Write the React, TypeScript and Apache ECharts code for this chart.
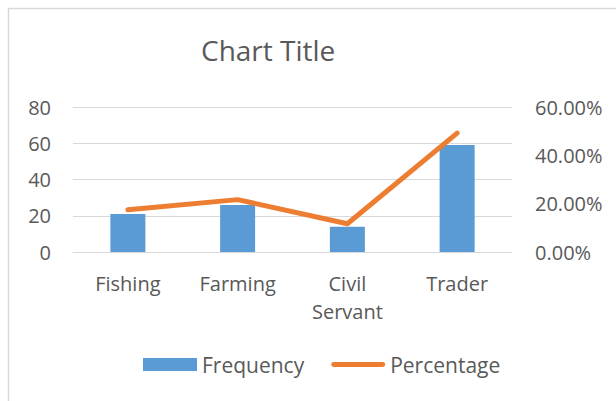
import React, { useEffect, useRef } from "react";
import * as echarts from "echarts";

const categories = ["Fishing", "Farming", "Civil\nServant", "Trader"];
const frequency = [21, 26, 14, 59];
const percentage = [0.175, 0.2167, 0.1167, 0.4917];
const leftTicks = { min: 0, max: 80, interval: 20 };
const rightTicks = { min: 0, max: 0.6, interval: 0.2 };

const FONT = "'Open Sans', 'Noto Sans', sans-serif";
const TEXT = "#595959";
const LINE_ICON = "path://M2.5,0 L53.5,0 A2.5,2.5 0 0 1 53.5,5 L2.5,5 A2.5,2.5 0 0 1 2.5,0 Z";

export default function App() {
  const ref = useRef<HTMLDivElement>(null);
  useEffect(() => {
    if (!ref.current) return;
    const chart = echarts.init(ref.current, undefined, { renderer: "svg" });
    chart.setOption({
      animation: false,
      backgroundColor: "#ffffff",
      textStyle: { fontFamily: FONT, color: TEXT },
      graphic: [
        {
          type: "rect",
          shape: { x: 8.5, y: 8.5, width: 640, height: 420 },
          style: { fill: "none", stroke: "#d9d9d9", lineWidth: 1.5 },
          silent: true,
          z: -1,
        },
      ],
      title: {
        text: "Chart Title",
        left: 196,
        top: 31,
        textStyle: { fontFamily: FONT, fontSize: 28, fontWeight: "normal", color: TEXT },
      },
      legend: {
        bottom: 21,
        left: 138,
        itemWidth: 54,
        itemHeight: 13,
        itemGap: 27,
        textStyle: { fontFamily: FONT, fontSize: 21, color: TEXT },
        data: [
          { name: "Frequency", icon: "rect" },
          { name: "Percentage", icon: LINE_ICON, itemStyle: { color: "#ED7D31" } },
        ],
      },
      grid: { left: 73, right: 104, top: 107, bottom: 149 },
      xAxis: {
        type: "category",
        data: categories,
        axisTick: { show: false },
        axisLine: { show: true, lineStyle: { color: "#d9d9d9", width: 1 } },
        axisLabel: { fontFamily: FONT, fontSize: 20, color: TEXT, margin: 17, lineHeight: 28 },
      },
      yAxis: [
        {
          type: "value",
          min: leftTicks.min,
          max: leftTicks.max,
          interval: leftTicks.interval,
          axisLine: { show: false },
          axisTick: { show: false },
          splitLine: { lineStyle: { color: "#d9d9d9", width: 1 } },
          axisLabel: { fontFamily: FONT, fontSize: 20, color: TEXT, margin: 22 },
        },
        {
          type: "value",
          min: rightTicks.min,
          max: rightTicks.max,
          interval: rightTicks.interval,
          position: "right",
          axisLine: { show: false },
          axisTick: { show: false },
          splitLine: { show: false },
          axisLabel: {
            fontFamily: FONT,
            fontSize: 20,
            color: TEXT,
            margin: 23,
            formatter: (v: number) => (v * 100).toFixed(2) + "%",
          },
        },
      ],
      series: [
        {
          name: "Frequency",
          type: "bar",
          data: frequency,
          barWidth: 35,
          itemStyle: { color: "#5B9BD5" },
        },
        {
          name: "Percentage",
          type: "line",
          yAxisIndex: 1,
          data: percentage,
          symbol: "none",
          lineStyle: { color: "#ED7D31", width: 5, cap: "round", join: "round" },
          itemStyle: { color: "#ED7D31" },
        },
      ],
    });
    return () => chart.dispose();
  }, []);
  return (
    <div
      ref={ref}
      style={{ position: "fixed", left: 0, top: 0, width: 616, height: 401 }}
    />
  );
}
